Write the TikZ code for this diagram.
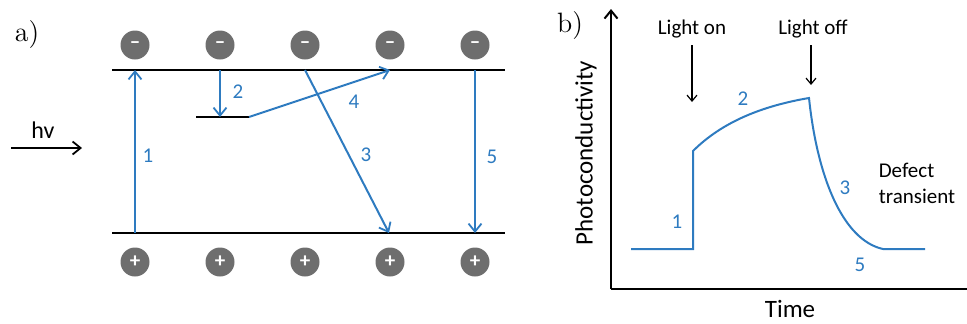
\documentclass[tikz,border=0pt]{standalone}
\usepackage{fontspec}
\newfontfamily\carlito{Carlito}
\usetikzlibrary{arrows.meta,positioning,calc}
\definecolor{bandblue}{HTML}{2E7BC0}
\definecolor{dotgray}{HTML}{6E6E6E}

\begin{document}
\begin{tikzpicture}[
  x=0.5pt, y=-0.5pt,
  >={Straight Barb[length=4pt,width=6.5pt,line width=0.9pt]},
  every node/.style={font=\carlito\fontsize{10.5}{13}\selectfont},
  elec/.style={circle, fill=dotgray, minimum size=14.5pt, inner sep=0pt, text=white, font=\carlito\bfseries\fontsize{10.5}{10.5}\selectfont},
  band/.style={line width=1.3pt},
  trans/.style={->, bandblue, line width=1pt},
  lab/.style={text=bandblue, inner sep=1pt},
  axis/.style={line width=1pt},
  marker/.style={->, line width=0.6pt, >={Straight Barb[length=3pt,width=5pt]}},
  panel/.style={font=\fontsize{14}{16}\selectfont}
]
\useasboundingbox (0,0) rectangle (967,323);

% --- panel a: band diagram ---
\node[panel] (pa) at (27,35) {a)};

% electrons and holes
\node[elec] (e1) at (135,45) {–};
\node[elec] (e2) at (220,45) {–};
\node[elec] (e3) at (305,45) {–};
\node[elec] (e4) at (390,45) {–};
\node[elec] (e5) at (475,45) {–};
\node[elec] (h1) at (135,262) {+};
\node[elec] (h2) at (220,262) {+};
\node[elec] (h3) at (305,262) {+};
\node[elec] (h4) at (390,262) {+};
\node[elec] (h5) at (475,262) {+};

% band edges and trap level
\coordinate (cbL) at (112,70);
\coordinate (cbR) at (505,70);
\coordinate (vbL) at (112,233);
\coordinate (vbR) at (505,233);
\coordinate (trL) at (196,117);
\coordinate (trR) at (249,117);
\draw[band] (cbL) -- (cbR);
\draw[band] (vbL) -- (vbR);
\draw[band] (trL) -- (trR);

\coordinate (cb1) at (135,70);
\coordinate (cb2) at (220,70);
\coordinate (cb3) at (305,70);
\coordinate (cb4) at (390,70);
\coordinate (cb5) at (475,70);
\coordinate (vb1) at (135,233);
\coordinate (vb4) at (389,233);
\coordinate (vb5) at (475,233);
\coordinate (tr2) at (220,117);

% transitions
\draw[trans] (vb1) -- (cb1);
\draw[trans] (cb2) -- (tr2);
\draw[trans] (trR) -- (cb4);
\draw[trans] (cb3) -- (vb4);
\draw[trans] (cb5) -- (vb5);
\node[lab] (l1) at (148,156) {1};
\node[lab] (l2) at (238,92) {2};
\node[lab] (l3) at (366,155) {3};
\node[lab] (l4) at (354,102) {4};
\node[lab] (l5) at (492,157) {5};

% incoming light
\coordinate (hvs) at (11,148);
\coordinate (hve) at (82,148);
\draw[->, line width=0.9pt, >={Straight Barb[length=4pt,width=6.5pt]}] (hvs) -- (hve);
\node[font=\carlito\fontsize{12}{14}\selectfont] (hv) at (43,130) {hv};

% --- panel b: photoconductivity transient ---
\node[panel] (pb) at (570,26) {b)};
\coordinate (orig) at (611,289);
\coordinate (ytop) at (611,9);
\coordinate (xend) at (967,289);
\draw[axis, ->, >={Straight Barb[length=4pt,width=6.5pt]}] (orig) -- (ytop);
\draw[axis] (orig) -- (xend);
\node[rotate=90, font=\carlito\fontsize{12.5}{14}\selectfont] (ylab) at (586,153) {Photoconductivity};
\node[font=\carlito\fontsize{12.5}{14}\selectfont] (xlab) at (790,309) {Time};

% light on / off markers
\node (lon) at (692,29) {Light on};
\node (loff) at (813,29) {Light off};
\coordinate (lonend) at (692,102);
\coordinate (loffend) at (811,85);
\draw[marker] (692,45) -- (lonend);
\draw[marker] (811,45) -- (loffend);

% response curve
\draw[bandblue, line width=1pt] (631,249) -- (693,249) -- (693,151)
  .. controls (722,122) and (762,106) .. (809,98)
  .. controls (817,175) and (842,240) .. (883,249) -- (925,249);
\node[lab] (c1) at (677,222) {1};
\node[lab] (c2) at (743,99) {2};
\node[lab] (c3) at (845,188) {3};
\node[lab] (c5) at (860,265) {5};
\node[align=left] (defect) at (917,183) {Defect\\transient};

\end{tikzpicture}
\end{document}
